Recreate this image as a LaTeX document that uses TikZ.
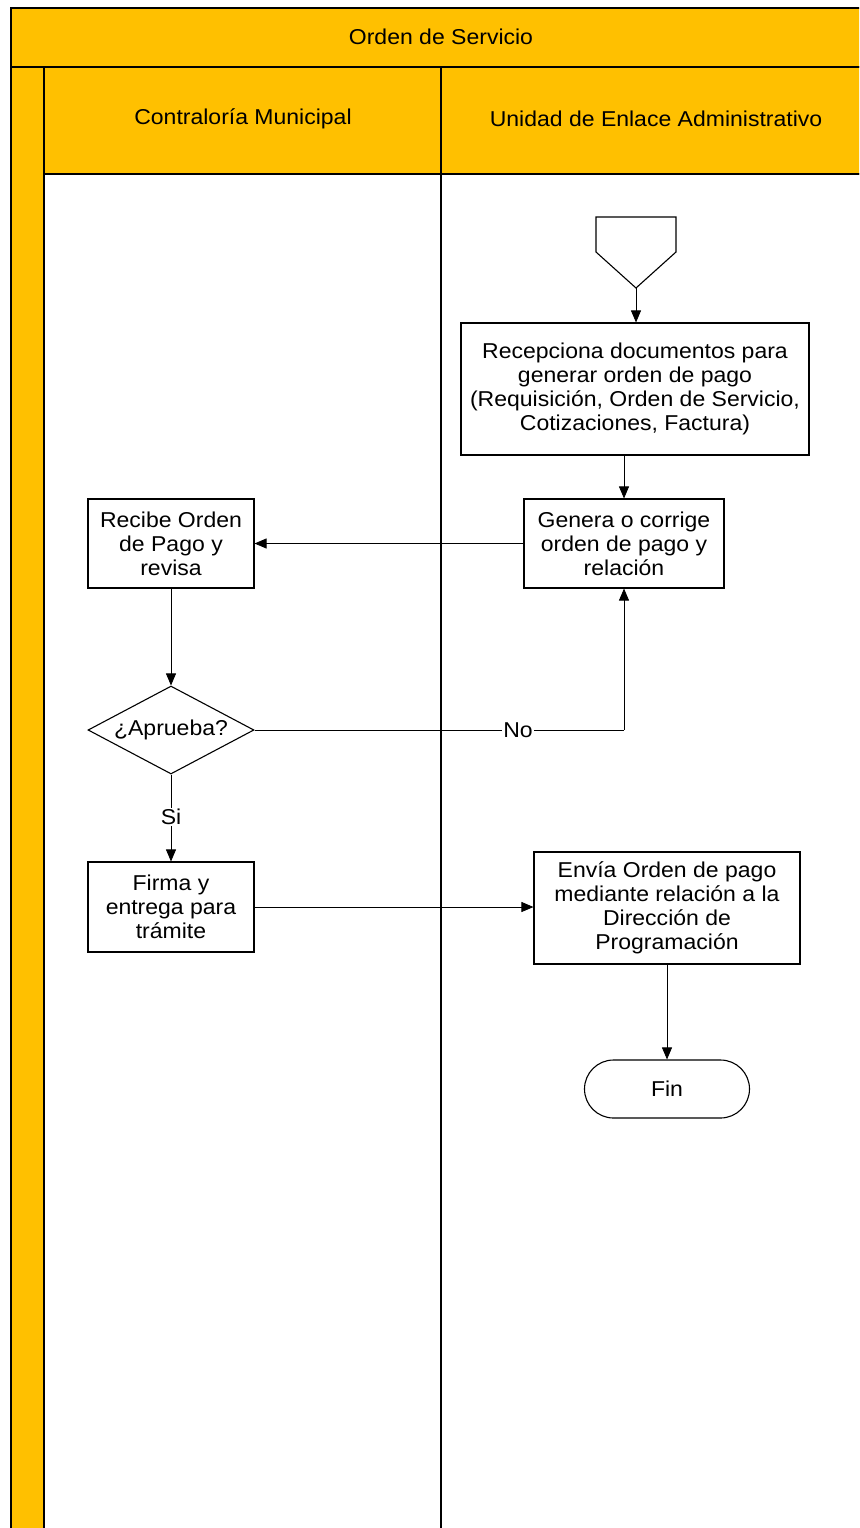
\documentclass[tikz,border=0pt]{standalone}
\usepackage{fontspec}
\setmainfont[FakeStretch=1.07]{Liberation Sans}
\usetikzlibrary{arrows.meta,shapes.geometric,shapes.misc}
\definecolor{lanegold}{HTML}{FFC000}
\tikzset{
  lane/.style={draw=black, line width=1.6pt, fill=lanegold},
  stepbox/.style={draw=black, line width=1.1pt, fill=white, align=center,
    inner sep=0pt, font=\fontsize{21.5}{24}\selectfont},
  decision/.style={draw=black, line width=1.1pt, fill=white, diamond, aspect=1.9,
    inner sep=0pt, font=\fontsize{21.5}{24}\selectfont},
  terminal/.style={draw=black, line width=1.1pt, fill=white, rounded rectangle,
    inner sep=0pt, font=\fontsize{21.5}{24}\selectfont},
  flow/.style={draw=black, line width=0.8pt, -{Triangle[length=12pt,width=10pt]}},
  plainflow/.style={draw=black, line width=0.8pt},
  tag/.style={fill=white, inner sep=1pt, font=\fontsize{21.5}{24}\selectfont},
  head/.style={font=\fontsize{21.5}{24}\selectfont}
}
\begin{document}
\begin{tikzpicture}[x=1pt,y=-1pt]
\useasboundingbox (0,0) rectangle (859,1528);
\begin{scope}
\clip (0,0) rectangle (859,1528);
\fill[white] (0,0) rectangle (859,1528);
% pool title band
\path[lane] (11,8) rectangle (880,67);
% vertical pool strip
\path[lane] (11,67) rectangle (44,1560);
% lane headers
\path[lane] (44,67) rectangle (441,174);
\path[lane] (441,67) rectangle (880,174);
% lane bodies
\draw[black, line width=1.6pt] (44,174) rectangle (441,1560);
\draw[black, line width=1.6pt] (441,174) rectangle (880,1560);
\end{scope}

\node[head] (pool) at (441,37) {Orden de Servicio};
\node[head] (laneA) at (243,119) {Contraloría Municipal};
\node[head] (laneB) at (656,119) {Unidad de Enlace Administrativo};

% off-page connector
\draw[black, line width=1.1pt, fill=white]
  (596,217) -- (676,217) -- (676,252) -- (636,288) -- (596,252) -- cycle;
\coordinate (opc) at (636,288);

\node[stepbox, minimum width=348pt, minimum height=132pt] (rec) at (635,389)
  {Recepciona documentos para\\generar orden de pago\\(Requisición, Orden de Servicio,\\Cotizaciones, Factura)};
\node[stepbox, minimum width=200pt, minimum height=89pt] (gen) at (624,543.5)
  {Genera o corrige\\orden de pago y\\relación};
\node[stepbox, minimum width=166pt, minimum height=89pt] (rev) at (171,543.5)
  {Recibe Orden\\de Pago y\\revisa};
\node[decision, minimum width=166pt, minimum height=88pt] (apr) at (171,730)
  {¿Aprueba?};
\node[stepbox, minimum width=166pt, minimum height=90pt] (fir) at (171,907)
  {Firma y\\entrega para\\trámite};
\node[stepbox, minimum width=266pt, minimum height=112pt] (env) at (667,908)
  {Envía Orden de pago\\mediante relación a la\\Dirección de\\Programación};
\node[terminal, minimum width=165pt, minimum height=58pt] (fin) at (667,1089)
  {Fin};

\draw[flow] (opc) -- (rec.north -| opc);
\draw[flow] (rec.south -| gen) -- (gen.north);
\draw[flow] (gen.west) -- (rev.east);
\draw[flow] (rev.south) -- (apr.north);
\draw[plainflow] (apr.east) -- (apr.east -| gen.south) coordinate (nocorner);
\draw[flow] (nocorner) -- (gen.south);
\node[tag] (nolabel) at (518,730) {No};
\draw[flow] (apr.south) -- (fir.north);
\node[tag] (silabel) at (171,817) {Si};
\draw[flow] (fir.east) -- (fir.east -| env.west);
\draw[flow] (env.south) -- (fin.north);
\end{tikzpicture}
\end{document}
